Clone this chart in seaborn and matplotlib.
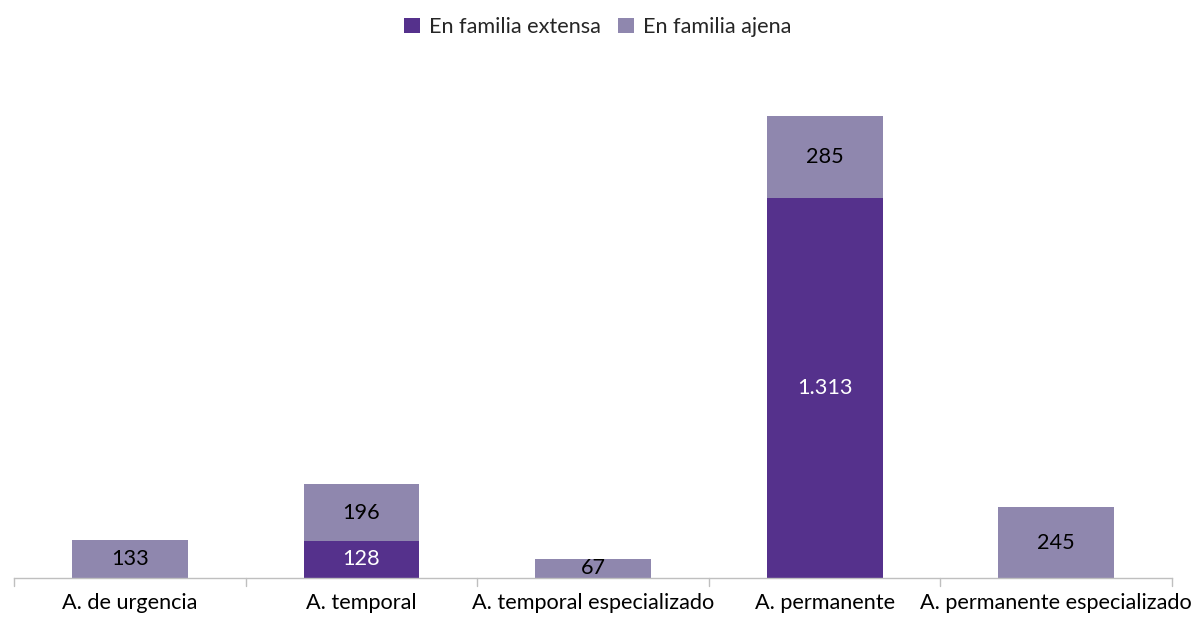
import matplotlib
matplotlib.use("Agg")
import matplotlib.pyplot as plt
import seaborn as sns
import numpy as np

categories = ["A. de urgencia", "A. temporal", "A. temporal especializado",
              "A. permanente", "A. permanente especializado"]
extensa = [0, 128, 0, 1313, 0]
ajena = [133, 196, 67, 285, 245]
series_names = ["En familia extensa", "En familia ajena"]

dark = "#55318C"
light = "#8F87AE"
fs = 15.6

sns.set_theme(style="white")
plt.rcParams["font.family"] = ["Lato", "DejaVu Sans"]

fig = plt.figure(figsize=(11.95, 6.17), dpi=100)
W, H = 1195, 617
ax = fig.add_axes([14 / W, 1 - 578 / H, (1172 - 14) / W, (578 - 116) / H])

sns.barplot(x=categories, y=extensa, color=dark, width=0.5, ax=ax,
            label=series_names[0], saturation=1, linewidth=0, edgecolor="none")
sns.barplot(x=categories, y=ajena, bottom=extensa, color=light, width=0.5,
            ax=ax, label=series_names[1], saturation=1, linewidth=0,
            edgecolor="none")

fmt = lambda v: f"{v:,}".replace(",", ".")
for i, (e, a) in enumerate(zip(extensa, ajena)):
    if e:
        ax.text(i, e / 2, fmt(e), ha="center", va="center", color="white",
                fontsize=fs)
    if a:
        ax.text(i, e + a / 2, fmt(a), ha="center", va="center", color="black",
                fontsize=fs)

ax.set_xlim(-0.5, len(categories) - 0.5)
ax.set_ylim(0, extensa[3] + ajena[3])
ax.set_yticks([])
for s in ["top", "right", "left"]:
    ax.spines[s].set_visible(False)
ax.spines["bottom"].set_color("#BFBFBF")
ax.spines["bottom"].set_linewidth(1)

ax.set_xticks(np.arange(len(categories)))
ax.set_xticklabels(categories, fontsize=fs, color="black")
ax.tick_params(axis="x", length=0, pad=10.5)
for b in np.arange(-0.5, len(categories), 1.0):
    ax.plot([b, b], [0, -28], color="#BFBFBF", lw=1, clip_on=False,
            transform=ax.transData)
ax.set_xlabel("")
ax.set_ylabel("")

leg = ax.legend(loc="center", bbox_to_anchor=(0.5, 1 - 27 / H),
                bbox_transform=fig.transFigure, ncol=2, frameon=False,
                fontsize=fs, handlelength=0.75, handleheight=0.75,
                handletextpad=0.4, columnspacing=0.8)

fig.savefig("out.png", dpi=100)
